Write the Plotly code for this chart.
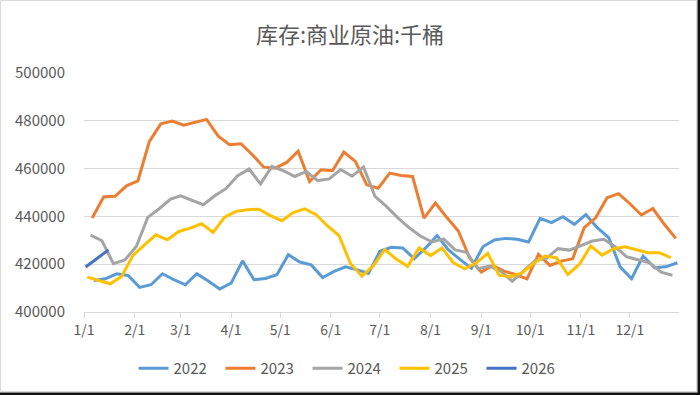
import pandas as pd
import plotly.graph_objects as go

# Weekly commercial crude inventories (thousand barrels)
start_dates = {"2022": "2022-01-07", "2023": "2023-01-06", "2024": "2024-01-05",
               "2025": "2025-01-03", "2026": "2026-01-02"}

v2022 = [413.2, 413.9, 416.0, 415.3, 410.3, 411.4, 416.0, 413.5, 411.4, 416.0,
         413.0, 409.6, 412.1, 421.4, 413.5, 414.0, 415.6, 424.0, 420.9, 419.7,
         414.4, 417.0, 418.9, 417.7, 416.1, 425.4, 427.1, 426.8, 422.3, 426.8,
         432.0, 426.0, 422.0, 418.3, 427.3, 430.1, 430.8, 430.4, 429.3, 439.2,
         437.4, 439.9, 436.7, 440.8, 435.3, 431.1, 418.9, 413.9, 423.4, 418.5,
         418.9, 420.6]
v2023 = [439.3, 448.1, 448.4, 452.8, 454.9, 471.4, 478.7, 479.9, 478.2, 479.4,
         480.6, 473.7, 470.0, 470.4, 465.8, 460.6, 460.2, 462.6, 467.3, 454.6,
         459.5, 459.1, 466.9, 463.0, 453.2, 451.8, 458.1, 457.1, 456.7, 439.3,
         445.6, 439.5, 433.9, 422.5, 416.7, 419.5, 417.1, 415.7, 413.9, 424.1,
         419.5, 421.3, 422.3, 435.3, 439.4, 447.8, 449.5, 445.3, 440.6, 443.3,
         436.7, 430.8]
v2024 = [432.2, 429.8, 420.2, 421.8, 427.4, 439.6, 443.2, 447.2, 448.6, 446.7,
         444.9, 448.6, 451.7, 457.0, 459.8, 453.6, 460.9, 459.1, 456.7, 458.8,
         455.0, 455.7, 459.6, 456.8, 460.7, 448.4, 444.2, 439.4, 435.2, 431.7,
         429.3, 430.6, 426.0, 425.0, 418.1, 419.2, 417.0, 412.9, 417.1, 421.5,
         422.5, 426.5, 425.9, 427.9, 429.7, 430.4, 427.3, 423.1, 422.0, 420.6,
         416.7, 415.4]
v2025 = [414.6, 413.2, 411.8, 414.9, 423.7, 428.1, 432.3, 430.2, 433.7, 435.1,
         436.9, 433.3, 439.7, 442.1, 442.8, 443.0, 440.3, 438.2, 441.6, 443.2,
         440.7, 436.0, 432.0, 420.3, 415.0, 419.4, 426.1, 422.2, 419.1, 426.8,
         423.6, 426.8, 420.6, 418.1, 420.6, 424.5, 415.3, 414.8, 416.4, 420.3,
         423.4, 422.7, 415.7, 419.9, 427.6, 423.8, 426.5, 427.3, 425.9, 424.8,
         424.8, 422.7]
v2026 = [418.8, 422.4, 426.0]

series = {"2022": v2022, "2023": v2023, "2024": v2024, "2025": v2025, "2026": v2026}
colors = {"2022": "#5B9BD5", "2023": "#ED7D31", "2024": "#A5A5A5",
          "2025": "#FFC000", "2026": "#4472C4"}

month_ticks = pd.date_range("2021-01-01", periods=12, freq="MS")
tick_labels = ["1/1", "2/1", "3/1", "4/1", "5/1", "6/1", "7/1", "8/1",
               "9/1", "10/1", "11/1", "12/1"]


def to_ref_year(dates):
    return [pd.Timestamp(2021, d.month, d.day) for d in dates]


fig = go.Figure()
for name, vals in series.items():
    dates = pd.date_range(start_dates[name], periods=len(vals), freq="7D")
    fig.add_trace(go.Scatter(
        x=to_ref_year(dates), y=[v * 1000 for v in vals], name=name,
        mode="lines", line=dict(color=colors[name], width=3)))

W, H = 700, 395
ML, MR, MT, MB = 84, 21, 73, 83
PW, PH = W - ML - MR, H - MT - MB


def px_x(px):
    return (px - ML) / PW


def px_y(py):
    return (H - MB - py) / PH


# chart frame (light border with dark right/bottom edge)
frame_shapes = [
    dict(type="rect", xref="paper", yref="paper",
         x0=px_x(0.5), x1=px_x(696.5), y0=px_y(0.5), y1=px_y(391.5),
         line=dict(color="#D9D9D9", width=1), fillcolor="rgba(0,0,0,0)", layer="below"),
    dict(type="rect", xref="paper", yref="paper",
         x0=px_x(697.5), x1=px_x(700), y0=px_y(0), y1=px_y(395),
         line=dict(width=0), fillcolor="#111111", layer="above"),
    dict(type="rect", xref="paper", yref="paper",
         x0=px_x(0), x1=px_x(700), y0=px_y(392.5), y1=px_y(395),
         line=dict(width=0), fillcolor="#111111", layer="above"),
]

font_family = "Noto Sans CJK SC, Noto Sans, sans-serif"
fig.update_layout(
    width=W, height=H,
    paper_bgcolor="white", plot_bgcolor="white",
    margin=dict(l=ML, r=MR, t=MT, b=MB),
    font=dict(family=font_family, color="#595959", size=14),
    title=dict(text="库存:商业原油:千桶", x=0.5, xref="container", xanchor="center",
               y=1 - 35 / H, yref="container", yanchor="middle",
               font=dict(size=22, color="#595959", family=font_family)),
    showlegend=True,
    legend=dict(orientation="h", xref="container", yref="container",
                x=0.5 + 1 / W, xanchor="center", y=1 - 368.5 / H, yanchor="middle",
                font=dict(size=15, color="#595959"),
                entrywidth=42, entrywidthmode="pixels",
                bgcolor="rgba(0,0,0,0)"),
    shapes=frame_shapes,
)
fig.update_xaxes(
    type="date", range=["2021-01-01", "2021-12-31"],
    tickvals=list(month_ticks), ticktext=tick_labels,
    showgrid=False, showline=True, linecolor="#D9D9D9", linewidth=1,
    ticks="outside", ticklen=5, tickcolor="#D9D9D9",
    tickfont=dict(size=14, color="#595959"), zeroline=False,
)
fig.update_yaxes(
    range=[400000, 500000], dtick=20000, tickformat="d",
    showgrid=True, gridcolor="#D9D9D9", gridwidth=1,
    showline=False, zeroline=False, ticks="",
    ticklabelstandoff=18,
    tickfont=dict(size=15, color="#595959"),
)
fig.write_html("out.html", config={"displayModeBar": False},
               post_script="document.body.style.margin='0';document.body.style.padding='0';")
